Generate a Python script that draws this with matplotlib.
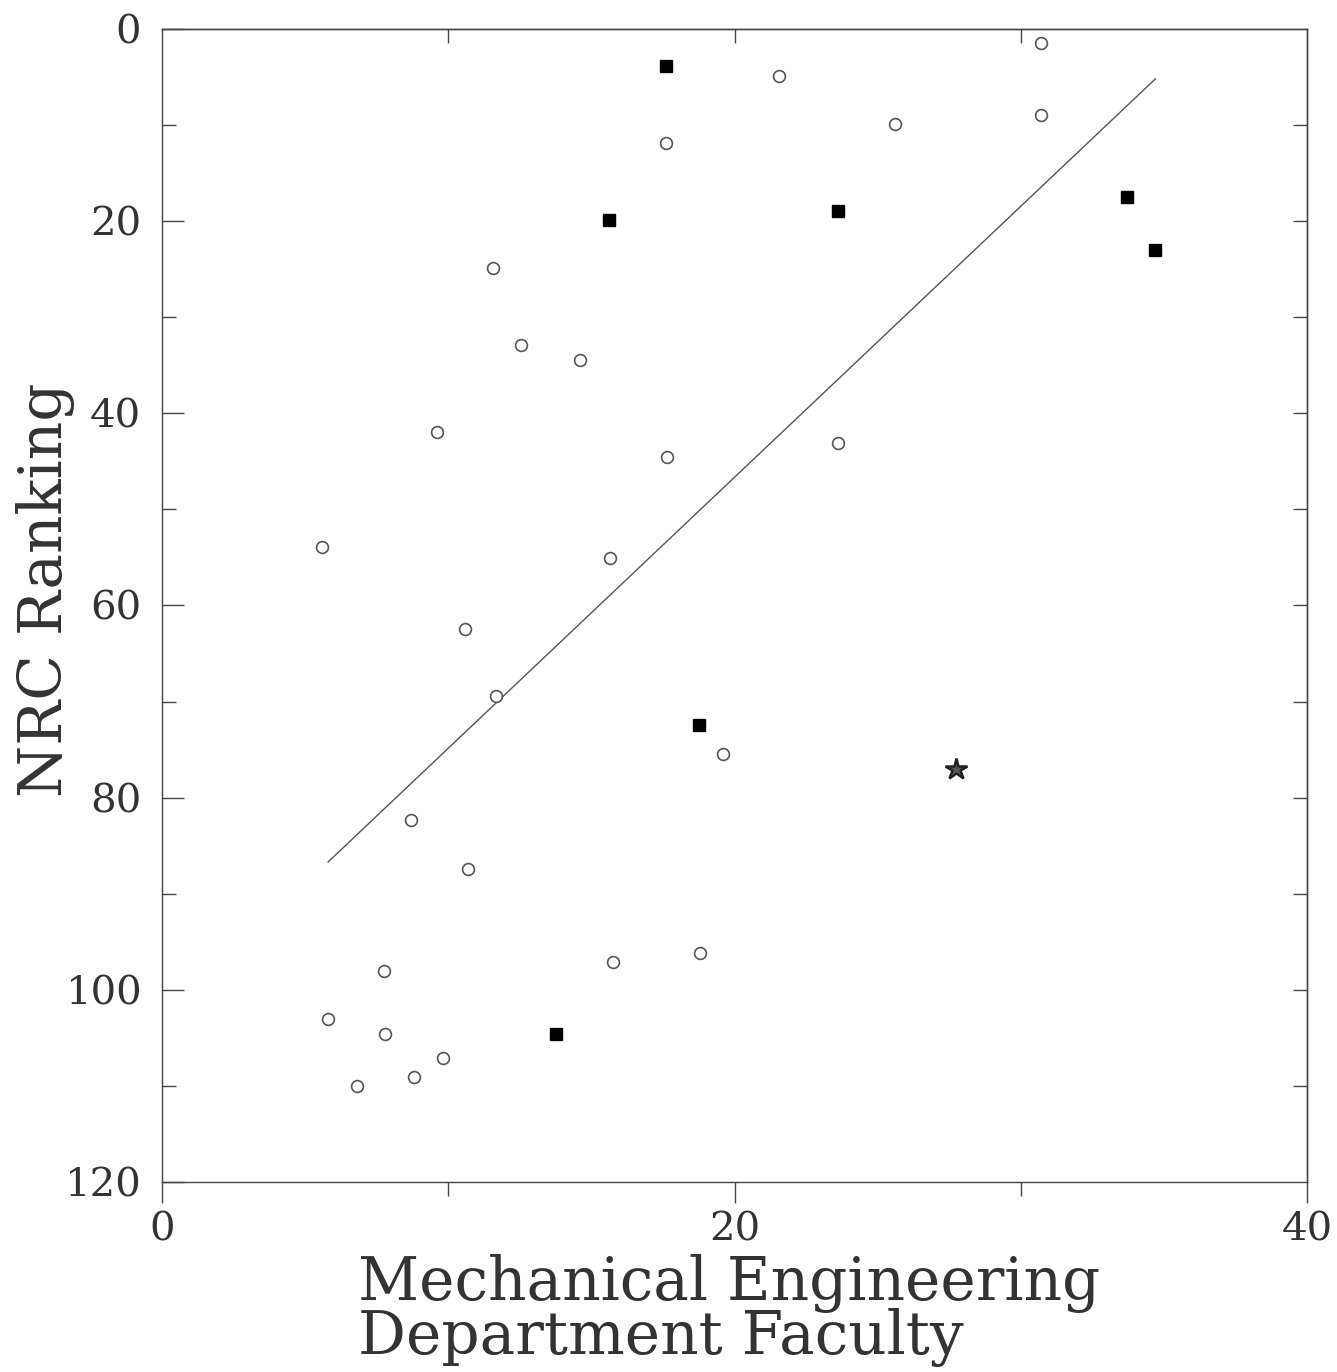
import matplotlib
matplotlib.use("Agg")
import matplotlib.pyplot as plt

# faculty size vs NRC ranking
open_x = [30.7, 21.55, 30.7, 25.6, 17.6, 11.55, 12.55, 14.6, 9.6, 23.6, 17.65, 5.6, 15.65,
          10.6, 11.65, 19.6, 8.7, 10.7, 18.8, 15.75, 7.75, 5.8, 7.8, 9.8, 8.8, 6.8]
open_y = [1.5, 4.9, 9.0, 9.9, 11.9, 24.9, 32.9, 34.5, 41.9, 43.1, 44.5, 53.9, 55.1,
          62.4, 69.4, 75.5, 82.3, 87.4, 96.2, 97.1, 98.0, 103.0, 104.6, 107.1, 109.1, 110.0]

filled_x = [17.6, 15.6, 23.6, 33.7, 34.7, 18.75, 13.75]
filled_y = [3.9, 19.9, 18.9, 17.5, 23.0, 72.4, 104.6]

star_x = [27.75]
star_y = [77.0]

# regression line end points
fit_x = [5.8, 34.7]
fit_y = [86.7, 5.2]

fig = plt.figure(figsize=(13.37, 13.72), dpi=100)
ax = fig.add_axes([0.1212, 0.1385, 0.8564, 0.8404])

ax.plot(fit_x, fit_y, color="#555555", lw=1.0)
ax.plot(open_x, open_y, "o", ms=8.5, mfc="white", mec="#555555", mew=1.2, ls="none")
ax.plot(filled_x, filled_y, "s", ms=9, mfc="black", mec="black", mew=1, ls="none")
ax.plot(star_x, star_y, "*", ms=16, mfc="#555555", mec="#222222", mew=1.8, ls="none")

ax.set_xlim(0, 40)
ax.set_ylim(120, 0)

tick_font = {"family": "DejaVu Serif", "size": 29, "color": "#333333"}
ax.set_xticks([0, 20, 40])
ax.set_xticks([10, 30], minor=True)
ax.set_yticks([0, 20, 40, 60, 80, 100, 120])
ax.set_yticks([10, 30, 50, 70, 90, 110], minor=True)
ax.set_xticklabels(["0", "20", "40"], fontdict=tick_font)
ax.set_yticklabels(["0", "20", "40", "60", "80", "100", "120"], fontdict=tick_font)

ax.tick_params(axis="x", which="major", direction="out", length=15, width=1.0,
               color="#444444", pad=6)
ax.tick_params(axis="x", which="minor", direction="out", length=10, width=1.0,
               color="#444444")
ax.tick_params(axis="y", which="major", direction="in", length=16, width=1.0,
               color="#444444", pad=15)
ax.tick_params(axis="y", which="minor", direction="in", length=10, width=1.0,
               color="#444444")

# short inward ticks along the top and right edges
top = ax.secondary_xaxis("top")
top.set_xticks([10, 20, 30])
top.tick_params(direction="in", length=10, width=1.0, color="#444444", labeltop=False)
right = ax.secondary_yaxis("right")
right.set_yticks([10, 20, 30, 40, 50, 60, 70, 80, 90, 100, 110])
right.tick_params(direction="in", length=10, width=1.0, color="#444444", labelright=False)
for s in list(ax.spines.values()) + [top.spines["top"], right.spines["right"]]:
    s.set_color("#444444")
    s.set_linewidth(1.0)

label_font = {"family": "DejaVu Serif", "size": 43, "color": "#333333"}
fig.text(0.034, 0.57, "NRC Ranking", rotation=90, ha="center", va="center",
         fontdict=label_font)
fig.text(0.545, 0.086, "Mechanical Engineering\nDepartment Faculty", ha="center",
         va="top", multialignment="left", linespacing=0.9, fontdict=label_font)

fig.savefig("out.png", dpi=100, facecolor="white")
